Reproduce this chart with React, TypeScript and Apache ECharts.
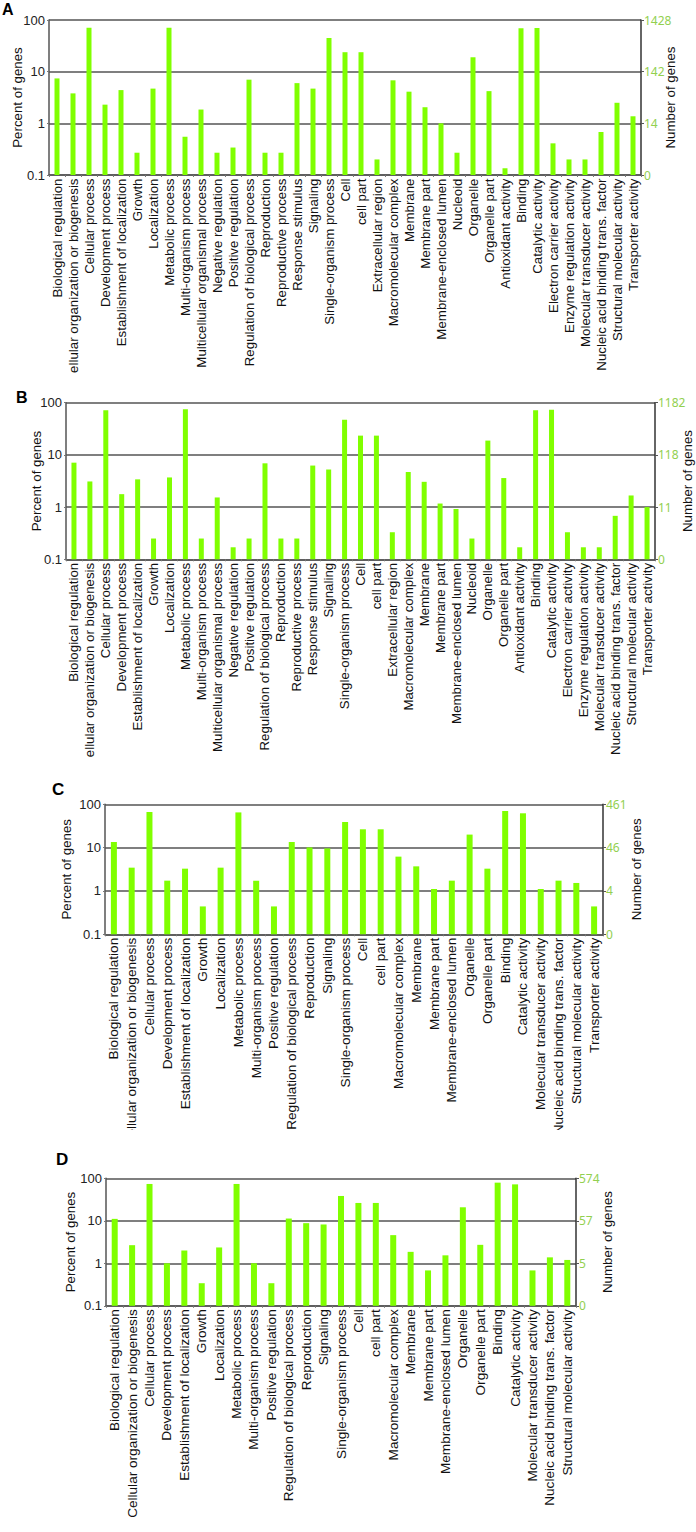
import React, { useEffect, useRef } from "react";
import * as echarts from "echarts";

const FONT = "'Liberation Sans', Arial, sans-serif";

const catsAB = [
  "Biological regulation",
  "Cellular organization or biogenesis",
  "Cellular process",
  "Development process",
  "Establishment of localization",
  "Growth",
  "Localization",
  "Metabolic process",
  "Multi-organism process",
  "Multicellular organismal process",
  "Negative regulation",
  "Positive regulation",
  "Regulation of biological process",
  "Reproduction",
  "Reproductive process",
  "Response stimulus",
  "Signaling",
  "Single-organism process",
  "Cell",
  "cell part",
  "Extracellular region",
  "Macromolecular complex",
  "Membrane",
  "Membrane part",
  "Membrane-enclosed lumen",
  "Nucleoid",
  "Organelle",
  "Organelle part",
  "Antioxidant activity",
  "Binding",
  "Catalytic activity",
  "Electron carrier activity",
  "Enzyme regulation activity",
  "Molecular transducer activity",
  "Nucleic acid binding trans. factor",
  "Structural molecular activity",
  "Transporter activity",
];

const pctA = [
  7.4, 3.8, 71, 2.3, 4.4, 0.27, 4.7, 71, 0.55, 1.85, 0.27, 0.34, 7.0, 0.27, 0.27,
  6.0, 4.7, 45, 23.8, 23.8, 0.2, 6.8, 4.1, 2.05, 1.0, 0.27, 19, 4.2, 0.135, 69,
  70, 0.41, 0.2, 0.2, 0.68, 2.5, 1.37,
];

const pctB = [
  7.1, 3.1, 72, 1.77, 3.4, 0.25, 3.7, 75, 0.25, 1.53, 0.17, 0.25, 6.9, 0.25, 0.25,
  6.25, 5.25, 47, 23.4, 23.4, 0.33, 4.7, 3.05, 1.17, 0.92, 0.25, 18.8, 3.6, 0.17,
  72, 73, 0.33, 0.17, 0.17, 0.68, 1.67, 1.0,
];

const catsD = [
  "Biological regulation",
  "Cellular organization or biogenesis",
  "Cellular process",
  "Development process",
  "Establishment of localization",
  "Growth",
  "Localization",
  "Metabolic process",
  "Multi-organism process",
  "Positive regulation",
  "Regulation of biological process",
  "Reproduction",
  "Signaling",
  "Single-organism process",
  "Cell",
  "cell part",
  "Macromolecular complex",
  "Membrane",
  "Membrane part",
  "Membrane-enclosed lumen",
  "Organelle",
  "Organelle part",
  "Binding",
  "Catalytic activity",
  "Molecular transducer activity",
  "Nucleic acid binding trans. factor",
  "Structural molecular activity",
];

const catsC = [...catsD, "Transporter activity"];

const pctC = [
  13.5, 3.45, 66.5, 1.73, 3.27, 0.44, 3.45, 65, 1.73, 0.44, 13.5, 10.1, 9.6, 39,
  26.5, 26.5, 6.2, 3.7, 1.11, 1.73, 20, 3.27, 70, 62, 1.11, 1.73, 1.53, 0.44,
];

const pctD = [
  11.1, 2.67, 73.6, 1.0, 2.0, 0.34, 2.36, 73.6, 1.0, 0.34, 11.3, 8.8, 8.2, 38.4,
  26.3, 26.3, 4.6, 1.86, 0.68, 1.54, 20.8, 2.72, 79, 72, 0.68, 1.38, 1.2,
];

const leftTicks = ["0.1", "1", "10", "100"];
const rightA = ["0", "14", "142", "1428"];
const rightB = ["0", "11", "118", "1182"];
const rightC = ["0", "4", "46", "461"];
const rightD = ["0", "5", "57", "574"];

type Panel = {
  letter: string;
  cats: string[];
  values: number[];
  right: string[];
  top: number;
  height: number;
  gl: number;
  gt: number;
  gw: number;
  gh: number;
  lx: number;
  ly: number;
  lfs: number;
  fs: number;
  bw: number;
  ngl: number;
  ngr: number;
};

const panels: Panel[] = [
  { letter: "A", cats: catsAB, values: pctA, right: rightA, top: 0, height: 373, gl: 49, gt: 20, gw: 592, gh: 155, lx: 2, ly: 1.5, lfs: 16, fs: 13.3, bw: 5, ngl: 25, ngr: 22.5 },
  { letter: "B", cats: catsAB, values: pctB, right: rightB, top: 373, height: 384, gl: 66, gt: 29.7, gw: 589, gh: 156.6, lx: 16, ly: 16.5, lfs: 16, fs: 13.3, bw: 5, ngl: 23, ngr: 25.5 },
  { letter: "C", cats: catsC, values: pctC, right: rightC, top: 757, height: 373, gl: 105, gt: 47.3, gw: 498, gh: 130, lx: 52, ly: 23.5, lfs: 17, fs: 13.6, bw: 6, ngl: 32, ngr: 26.5 },
  { letter: "D", cats: catsD, values: pctD, right: rightD, top: 1130, height: 402, gl: 106, gt: 48.3, gw: 470, gh: 127.5, lx: 56, ly: 20.5, lfs: 17, fs: 13.6, bw: 6, ngl: 29, ngr: 24.5 },
];

const idx = (v: number) => Math.round(Math.log10(v)) + 1;

function buildOption(p: Panel) {
  const lineCol = "#555";
  return {
    animation: false,
    textStyle: { fontFamily: FONT },
    grid: {
      left: p.gl,
      top: p.gt,
      width: p.gw,
      height: p.gh,
      containLabel: false,
      outerBoundsMode: "none",
    },
    xAxis: {
      type: "category",
      data: p.cats,
      boundaryGap: true,
      axisLine: { show: true, lineStyle: { color: lineCol, width: 1.5 } },
      axisTick: { show: true, length: 2, lineStyle: { color: "#777" } },
      axisLabel: {
        interval: 0,
        rotate: 90,
        fontSize: p.fs,
        color: "#111",
        margin: 3.5,
        fontFamily: FONT,
      },
    },
    yAxis: [
      {
        type: "log",
        logBase: 10,
        min: 0.1,
        max: 100,
        startValue: 0.1,
        name: "Percent of genes",
        nameLocation: "middle",
        nameGap: p.ngl,
        nameRotate: 90,
        nameMoveOverlap: false,
        nameTextStyle: { fontSize: 13.3, color: "#111", fontFamily: FONT },
        axisLine: { show: true, lineStyle: { color: lineCol, width: 1.5 } },
        axisTick: { show: true, length: 2, lineStyle: { color: "#777" } },
        axisLabel: {
          formatter: (v: number) => leftTicks[idx(v)] ?? "",
          fontSize: 13,
          color: "#222",
          margin: 4,
          fontFamily: FONT,
        },
        splitLine: { show: true, lineStyle: { color: lineCol, width: 1.5 } },
      },
      {
        type: "log",
        logBase: 10,
        min: 0.1,
        max: 100,
        startValue: 0.1,
        position: "right",
        name: "Number of genes",
        nameLocation: "middle",
        nameGap: p.ngr,
        nameRotate: 90,
        nameMoveOverlap: false,
        nameTextStyle: { fontSize: 13.3, color: "#111", fontFamily: FONT },
        axisLine: { show: true, lineStyle: { color: "#333", width: 1.5 } },
        axisTick: { show: true, length: 3, lineStyle: { color: "#555" } },
        axisLabel: {
          formatter: (v: number) => p.right[idx(v)] ?? "",
          fontSize: 12,
          color: "#92d050",
          margin: 3,
          fontFamily: "'Noto Sans', 'Open Sans', sans-serif",
        },
        splitLine: { show: false },
      },
    ],
    series: [
      {
        type: "bar",
        data: p.values,
        yAxisIndex: 0,
        barWidth: p.bw,
        itemStyle: { color: "#80ff00" },
      },
    ],
    graphic: [
      {
        type: "text",
        left: p.lx,
        top: p.ly,
        style: { text: p.letter, font: `bold ${p.lfs}px ${FONT}`, fill: "#000" },
      },
    ],
  };
}

function PanelChart({ p }: { p: Panel }) {
  const ref = useRef<HTMLDivElement>(null);
  useEffect(() => {
    if (!ref.current) return;
    const chart = echarts.init(ref.current, undefined, { renderer: "svg" });
    chart.setOption(buildOption(p) as any);
    return () => chart.dispose();
  }, [p]);
  return (
    <div
      ref={ref}
      style={{
        position: "absolute",
        left: 0,
        top: p.top,
        width: 696,
        height: p.height,
        overflow: "hidden",
      }}
    />
  );
}

export default function App() {
  return (
    <div
      style={{
        position: "absolute",
        left: 0,
        top: 0,
        width: 696,
        height: 1532,
        background: "#fff",
        overflow: "hidden",
      }}
    >
      {panels.map((p) => (
        <PanelChart key={p.letter} p={p} />
      ))}
    </div>
  );
}
